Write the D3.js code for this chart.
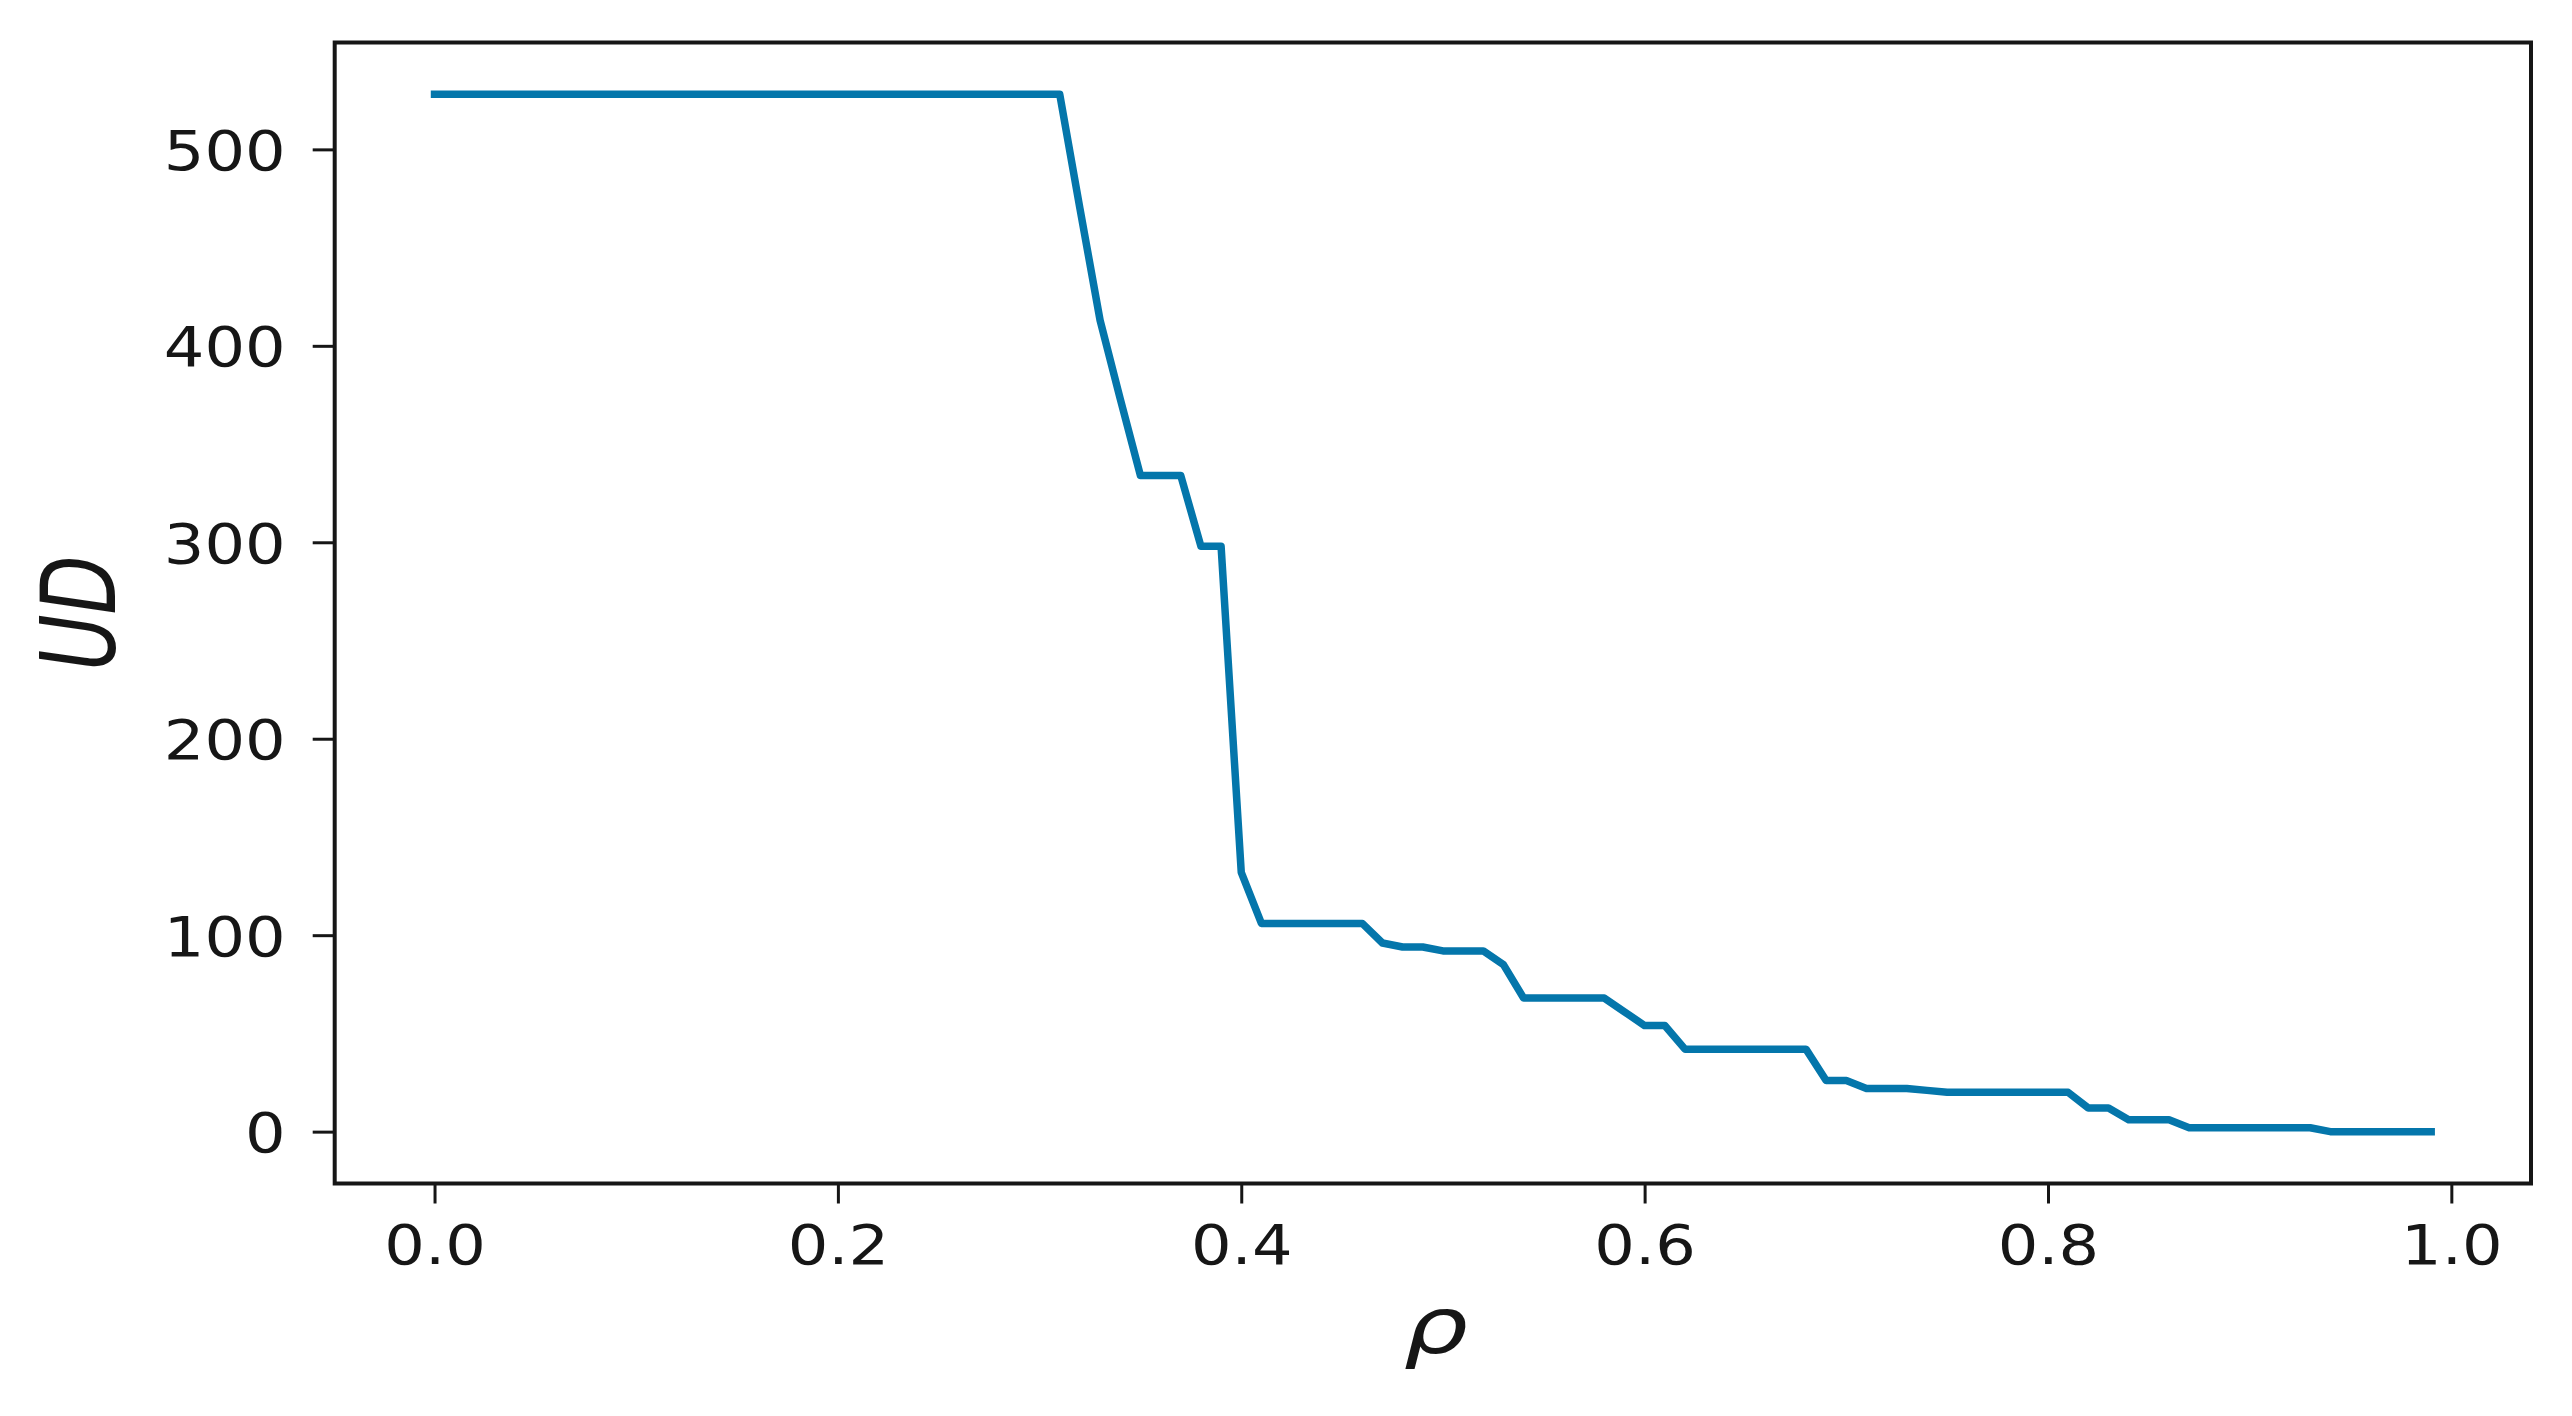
<!DOCTYPE html>
<html>
<head>
<meta charset="utf-8">
<script src="https://cdn.jsdelivr.net/npm/d3@7"></script>
<style>
  html, body { margin: 0; padding: 0; background: #ffffff; }
  svg { display: block; }
</style>
</head>
<body>
<svg id="chart" width="2572" height="1416"></svg>
<script>
// ---- data ----
const rho = [];
for (let i = 0; i <= 99; i++) rho.push(+(i / 100).toFixed(2));
const udValues = [
  528, 528, 528, 528, 528, 528, 528, 528, 528, 528,   // 0.00-0.09
  528, 528, 528, 528, 528, 528, 528, 528, 528, 528,   // 0.10-0.19
  528, 528, 528, 528, 528, 528, 528, 528, 528, 528,   // 0.20-0.29
  528, 528, 470, 413, 373, 334, 334, 334, 298, 298,   // 0.30-0.39
  132, 106, 106, 106, 106, 106, 106, 96, 94, 94,      // 0.40-0.49
  92, 92, 92, 85, 68, 68, 68, 68, 68, 61,             // 0.50-0.59
  54, 54, 42, 42, 42, 42, 42, 42, 42, 26,             // 0.60-0.69
  26, 22, 22, 22, 21, 20, 20, 20, 20, 20,             // 0.70-0.79
  20, 20, 12, 12, 6, 6, 6, 2, 2, 2,                   // 0.80-0.89
  2, 2, 2, 2, 0, 0, 0, 0, 0, 0                        // 0.90-0.99
];
const xTicks = [0.0, 0.2, 0.4, 0.6, 0.8, 1.0];
const yTicks = [0, 100, 200, 300, 400, 500];
const xLabel = "ρ";
const yLabel = "UD";

// ---- layout ----
const W = 2572, H = 1416;
const plot = { left: 334.7, right: 2531, top: 42.5, bottom: 1183.5 };
const lineColor = "#0476ab";
const ink = "#161616";

const svg = d3.select("#chart");

const x = d3.scaleLinear().domain([-0.0495, 1.0395]).range([plot.left, plot.right]);
const y = d3.scaleLinear().domain([-26.4, 554.4]).range([plot.bottom, plot.top]);

// line
const data = rho.map((r, i) => ({ r, u: udValues[i] }));
svg.append("path")
  .datum(data)
  .attr("fill", "none")
  .attr("stroke", lineColor)
  .attr("stroke-width", 7.5)
  .attr("stroke-linejoin", "round")
  .attr("stroke-linecap", "square")
  .attr("d", d3.line().x(d => x(d.r)).y(d => y(d.u)));

// axes
const tickFont = "'DejaVu Sans', sans-serif";
const gx = svg.append("g")
  .attr("transform", `translate(0,${plot.bottom})`)
  .call(d3.axisBottom(x).tickValues(xTicks).tickFormat(d3.format(".1f")).tickSize(20).tickPadding(0));
gx.select(".domain").remove();
gx.selectAll(".tick line").attr("stroke", ink).attr("stroke-width", 3);
gx.selectAll(".tick text")
  .attr("fill", ink)
  .attr("font-family", tickFont)
  .attr("font-size", 56)
  .attr("y", 0)
  .attr("dy", 0)
  .attr("transform", "translate(0,80) scale(1.14,1)");

const gy = svg.append("g")
  .attr("transform", `translate(${plot.left},0)`)
  .call(d3.axisLeft(y).tickValues(yTicks).tickSize(22).tickPadding(0));
gy.select(".domain").remove();
gy.selectAll(".tick line").attr("stroke", ink).attr("stroke-width", 3);
gy.selectAll(".tick text")
  .attr("fill", ink)
  .attr("font-family", tickFont)
  .attr("font-size", 56)
  .attr("x", 0)
  .attr("dy", "0.36em")
  .attr("transform", "translate(-49,0) scale(1.14,1)");

// frame (spines)
svg.append("rect")
  .attr("x", plot.left).attr("y", plot.top)
  .attr("width", plot.right - plot.left).attr("height", plot.bottom - plot.top)
  .attr("fill", "none").attr("stroke", ink).attr("stroke-width", 4);

// axis labels
svg.append("text")
  .attr("transform", `translate(${(plot.left + plot.right) / 2 + 3},1353) scale(1.3,1)`)
  .attr("text-anchor", "middle")
  .attr("font-family", tickFont)
  .attr("font-style", "italic")
  .attr("font-size", 78)
  .attr("fill", ink)
  .text(xLabel);

svg.append("text")
  .attr("transform", `translate(115,613) scale(1.35,1) rotate(-90)`)
  .attr("text-anchor", "middle")
  .attr("font-family", tickFont)
  .attr("font-style", "italic")
  .attr("font-size", 77)
  .attr("fill", ink)
  .text(yLabel);
</script>
</body>
</html>
